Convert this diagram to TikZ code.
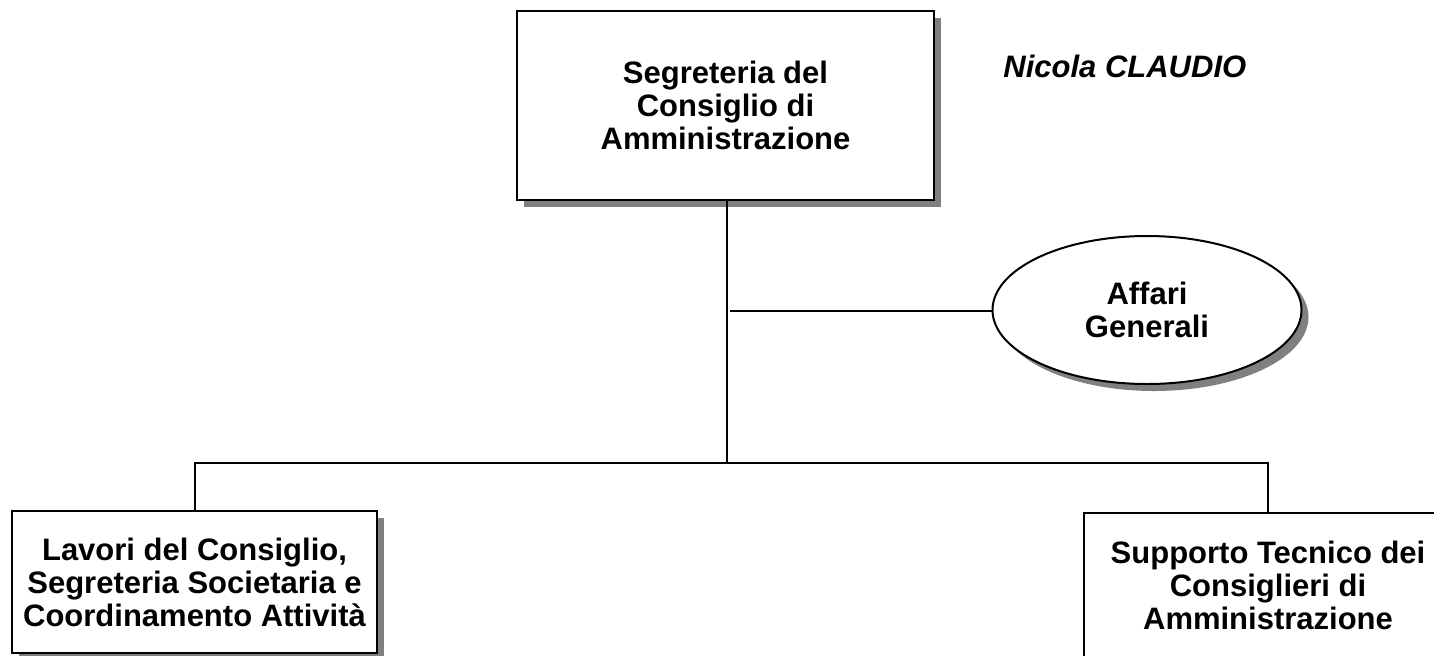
\documentclass[tikz,border=0pt]{standalone}
\usepackage{fontspec}
\setmainfont{Liberation Sans}
\usetikzlibrary{shapes.geometric,shadows}
\tikzset{
  orgbox/.style={draw=black, line width=1pt, fill=white, inner sep=0pt, align=center,
    font=\fontsize{15.5}{16.5}\selectfont\bfseries,
    drop shadow={shadow xshift=3.5pt, shadow yshift=-3.5pt, fill=black!50, opacity=1}},
  orgell/.style={orgbox, ellipse},
  link/.style={draw=black, line width=1pt},
  labeltext/.style={font=\fontsize{15.5}{16.5}\selectfont\bfseries\itshape, inner sep=0pt}
}
\begin{document}
\begin{tikzpicture}[x=0.5pt,y=-0.5pt]
\useasboundingbox (0,0) rectangle (1434,655);
\fill[white] (0,0) rectangle (1434,655);
\node[orgbox, minimum width=208.5pt, minimum height=94.5pt] (top) at (725.5,105.5)
  {Segreteria del\\Consiglio di\\Amministrazione};
\node[labeltext, anchor=base west] (name) at (1003,77) {Nicola CLAUDIO};
\node[orgell, minimum width=154.5pt, minimum height=74pt] (ag) at (1147,310)
  {Affari\\Generali};
\node[orgbox, minimum width=182.5pt, minimum height=71pt] (lc) at (194.5,582)
  {Lavori del Consiglio,\\Segreteria Societaria e\\Coordinamento Attività};
\node[orgbox, minimum width=184pt, minimum height=72pt] (st) at (1268,585)
  {Supporto Tecnico dei\\Consiglieri di\\Amministrazione};
\coordinate (bus) at (727,463);
\coordinate (j1s) at (730,311);
\draw[link] (top.south -| bus) -- (bus);
\draw[link] (j1s) -- (ag.west |- j1s);
\draw[link] (lc.north) |- (bus) -| (st.north);
\end{tikzpicture}
\end{document}
